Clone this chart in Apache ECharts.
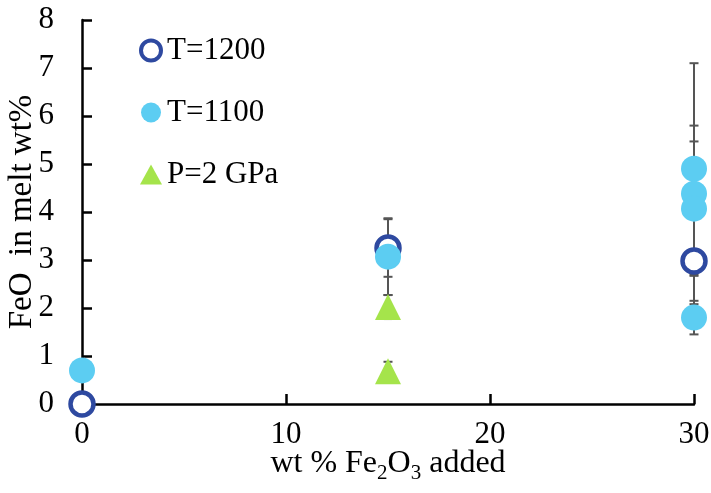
<!DOCTYPE html>
<html>
<head>
<meta charset="utf-8">
<script src="https://cdn.jsdelivr.net/npm/echarts@6/dist/echarts.min.js"></script>
<style>html,body{margin:0;padding:0;background:#fff}#c{width:711px;height:493px}</style>
</head>
<body>
<div id="c"></div>
<script>
// Data (x = wt % Fe2O3 added, y = FeO in melt wt%, err = ± error)
var t1200X = [0, 15, 30];
var t1200Y = [0, 3.25, 2.98];
var t1200Err = [0, 0.6, 0.9];

var t1100X = [0, 15, 30, 30, 30, 30];
var t1100Y = [0.7, 3.07, 4.9, 4.38, 4.07, 1.8];
var t1100Err = [0, 0.8, 2.2, 1.42, 1.4, 0.35];

var p2X = [15, 15];
var p2Y = [2.02, 0.68];
var p2Err = [0.25, 0.2];

var xTicks = [0, 10, 20, 30];
var yTicks = [0, 1, 2, 3, 4, 5, 6, 7, 8];
var seriesNames = ['T=1200', 'T=1100', 'P=2 GPa'];

var C1200 = '#2E49A0', C1100 = '#5CCDF2', CP = '#A5E44B';
var FONT = 'Liberation Serif';

function pts(xs, ys) { return xs.map(function (x, i) { return [x, ys[i]]; }); }
function errs(xs, ys, es) {
  var out = [];
  xs.forEach(function (x, i) { if (es[i] > 0) out.push([x, ys[i] - es[i], ys[i] + es[i]]); });
  return out;
}
var errData = [].concat(errs(t1200X, t1200Y, t1200Err), errs(t1100X, t1100Y, t1100Err), errs(p2X, p2Y, p2Err));

var chart = echarts.init(document.getElementById('c'));
chart.setOption({
  animation: false,
  backgroundColor: '#fff',
  grid: { left: 82, right: 17, top: 20, bottom: 89, containLabel: false, outerBoundsMode: 'none' },
  legend: {
    orient: 'vertical', left: 134, top: 30, itemGap: 31,
    itemWidth: 22, itemHeight: 20,
    textStyle: { fontFamily: FONT, fontSize: 31, color: '#000', lineHeight: 31 },
    data: [
      { name: seriesNames[0], icon: 'circle', itemStyle: { color: '#fff', borderColor: C1200, borderWidth: 4 } },
      { name: seriesNames[1], icon: 'circle', itemStyle: { color: C1100, borderWidth: 0 } },
      { name: seriesNames[2], icon: 'triangle', itemStyle: { color: CP, borderWidth: 0 } }
    ]
  },
  xAxis: {
    type: 'value', min: xTicks[0], max: xTicks[xTicks.length - 1], interval: 10,
    name: 'wt % Fe{sub|2}O{sub|3} added', nameLocation: 'middle', nameGap: 44, nameMoveOverlap: false,
    nameTextStyle: {
      fontFamily: FONT, fontSize: 32, color: '#000', lineHeight: 32,
      rich: { sub: { fontFamily: FONT, fontSize: 21, lineHeight: 21, padding: [19, 0, 0, 0], color: '#000' } }
    },
    axisLine: { lineStyle: { color: '#000', width: 2.5 } },
    axisTick: { inside: true, length: 10, lineStyle: { color: '#000', width: 2.5 } },
    axisLabel: { fontFamily: FONT, fontSize: 31, color: '#000', margin: 15 },
    splitLine: { show: false }
  },
  yAxis: {
    type: 'value', min: yTicks[0], max: yTicks[yTicks.length - 1], interval: 1,
    name: 'FeO  in melt wt%', nameLocation: 'middle', nameGap: 43, nameMoveOverlap: false,
    nameTextStyle: { fontFamily: FONT, fontSize: 33, color: '#000' },
    axisLine: { show: true, lineStyle: { color: '#000', width: 2.5 } },
    axisTick: { show: true, inside: true, length: 10, lineStyle: { color: '#000', width: 2.5 } },
    axisLabel: { fontFamily: FONT, fontSize: 31, color: '#000', margin: 28 },
    splitLine: { show: false }
  },
  series: [
    {
      type: 'custom', name: 'err', z: 1, silent: true, data: errData,
      renderItem: function (params, api) {
        var x = api.value(0);
        var lo = api.coord([x, api.value(1)]);
        var hi = api.coord([x, api.value(2)]);
        var w = 4.5;
        var st = { stroke: '#555', lineWidth: 2 };
        return {
          type: 'group', children: [
            { type: 'line', shape: { x1: lo[0], y1: lo[1], x2: hi[0], y2: hi[1] }, style: st },
            { type: 'line', shape: { x1: lo[0] - w, y1: lo[1], x2: lo[0] + w, y2: lo[1] }, style: st },
            { type: 'line', shape: { x1: hi[0] - w, y1: hi[1], x2: hi[0] + w, y2: hi[1] }, style: st }
          ]
        };
      }
    },
    {
      type: 'scatter', name: seriesNames[0], z: 3, clip: false, data: pts(t1200X, t1200Y),
      symbol: 'circle', symbolSize: 23,
      itemStyle: { color: '#fff', borderColor: C1200, borderWidth: 4.5, opacity: 1 }
    },
    {
      type: 'scatter', name: seriesNames[1], z: 4, clip: false, data: pts(t1100X, t1100Y),
      symbol: 'circle', symbolSize: 26,
      itemStyle: { color: C1100, opacity: 1 }
    },
    {
      type: 'scatter', name: seriesNames[2], z: 5, clip: false, data: pts(p2X, p2Y),
      symbol: 'triangle', symbolSize: 26,
      itemStyle: { color: CP, opacity: 1 }
    }
  ]
});
</script>
</body>
</html>
